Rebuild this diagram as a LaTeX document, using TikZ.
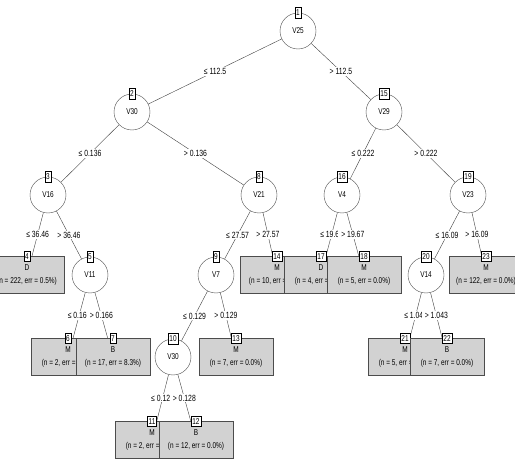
\documentclass[tikz,border=0pt]{standalone}
\usepackage{fontspec}
\setmainfont{Liberation Sans}[FakeStretch=0.76]
\usetikzlibrary{backgrounds}

\tikzset{
  splitnode/.style={circle, draw=black!70, fill=white, line width=0.4pt,
    minimum size=36pt, inner sep=0pt, font=\fontsize{8.5}{9}\selectfont},
  leafnode/.style={rectangle, draw=black!70, fill=gray!35, line width=0.4pt,
    minimum width=74pt, minimum height=37pt, inner sep=0pt, align=center,
    font=\fontsize{8.5}{13}\selectfont},
  numbox/.style={rectangle, draw=black, fill=white, line width=0.4pt,
    inner xsep=1.2pt, inner ysep=0.8pt, minimum height=10.5pt,
    font=\fontsize{8.5}{9}\selectfont},
  edgelab/.style={fill=white, inner xsep=3pt, inner ysep=1pt,
    font=\fontsize{9}{10}\selectfont},
  branch/.style={draw=black!75, line width=0.4pt},
}

\begin{document}
\begin{tikzpicture}[x=1pt,y=-1pt]
  \useasboundingbox (0,0) rectangle (515,462);
  % inner nodes
  \foreach \id/\px/\py/\var in {1/298/31/V25, 2/132/112/V30, 15/384/112/V29,
      3/48/195/V16, 8/259/195/V21, 16/342/195/V4, 19/468/195/V23,
      5/90/275/V11, 9/216/275/V7, 20/426/275/V14, 10/173/357/V30}
    \node[splitnode, label={[numbox,anchor=center]north:\id}] (n\id) at (\px,\py) {\var};
  % terminal nodes
  \foreach \id/\px/\py/\cls/\nn/\er in {4/27/275/D/222/0.5, 6/68/357/M/2/0.0,
      7/113/357/B/17/8.3, 11/152/440/M/2/0.0, 12/196/440/B/12/0.0,
      13/236/357/M/7/0.0, 14/277/275/M/10/0.0, 17/321/275/D/4/0.0,
      18/364/275/M/5/0.0, 21/405/357/M/5/0.0, 22/447/357/B/7/0.0,
      23/486/275/M/122/0.0}
    \node[leafnode, label={[numbox,anchor=center]north:\id}] (n\id) at (\px,\py)
      {\cls\\(n = \nn, err = \er\%)};
  % branches
  \begin{scope}[on background layer]
    \foreach \a/\b/\lab in {1/2/{≤ 112.5}, 1/15/{> 112.5}, 2/3/{≤ 0.136},
        2/8/{> 0.136}, 3/4/{≤ 36.46}, 3/5/{> 36.46}, 5/6/{≤ 0.166},
        5/7/{> 0.166}, 8/9/{≤ 27.57}, 8/14/{> 27.57}, 9/10/{≤ 0.129},
        9/13/{> 0.129}, 10/11/{≤ 0.128}, 10/12/{> 0.128}, 15/16/{≤ 0.222},
        15/19/{> 0.222}, 16/17/{≤ 19.67}, 16/18/{> 19.67}, 19/20/{≤ 16.09},
        19/23/{> 16.09}, 20/21/{≤ 1.043}, 20/22/{> 1.043}}
      \draw[branch] (n\a) -- node[edgelab] {\lab} (n\b);
  \end{scope}
\end{tikzpicture}
\end{document}
